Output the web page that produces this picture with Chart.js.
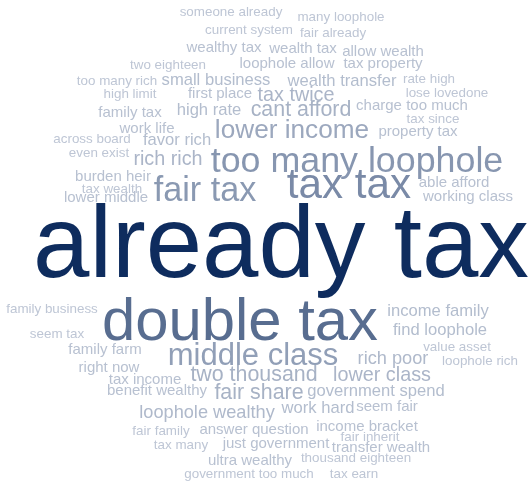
<!DOCTYPE html>
<html>
<head>
<meta charset="utf-8">
<script src="https://cdn.jsdelivr.net/npm/chart.js@4"></script>
<style>
  html, body { margin: 0; padding: 0; background: #fff; }
  #cloud { display: block; }
</style>
</head>
<body>
<canvas id="cloud" width="530" height="481"></canvas>
<script>
// word frequencies
const words = [
  'already tax', 'double tax', 'tax tax', 'too many loophole', 'fair tax', 'middle class',
  'lower income', 'two thousand', 'fair share', 'cant afford', 'tax twice', 'rich rich',
  'lower class', 'rich poor', 'loophole wealthy', 'work hard', 'wealth transfer', 'small business',
  'high rate', 'government spend', 'favor rich', 'income family', 'find loophole',
  'allow wealth', 'tax property', 'wealth tax', 'wealthy tax', 'loophole allow', 'answer question',
  'just government', 'income bracket', 'transfer wealth', 'first place', 'charge', 'too much',
  'seem fair', 'ultra wealthy', 'benefit wealthy', 'tax income', 'family farm', 'right now',
  'burden heir', 'family tax', 'work life', 'lower middle', 'able afford', 'working class',
  'property tax',
  'two eighteen', 'too many rich', 'high limit', 'across board', 'even exist', 'tax wealth',
  'tax since', 'lose lovedone', 'rate high', 'someone already', 'many loophole', 'current system',
  'fair already', 'family business', 'seem tax', 'value asset', 'loophole rich', 'fair family',
  'tax many', 'fair inherit', 'thousand eighteen', 'government too much', 'tax earn'
];
const counts = [
  57, 31, 20, 16, 15, 13,
  10, 7, 7, 7, 6, 6,
  6, 5, 5, 4, 4, 4,
  4, 4, 4, 4, 4,
  3, 3, 3, 3, 3, 3,
  3, 3, 3, 3, 3, 3,
  3, 3, 3, 3, 3, 3,
  3, 3, 3, 3, 3, 3,
  3,
  2, 2, 2, 2, 2, 2,
  2, 2, 2, 2, 2, 2,
  2, 2, 2, 2, 2, 2,
  2, 2, 2, 2, 2
];
// cloud layout: where each word landed (word centre, in cloud units)
const xs = [
  281, 240, 349, 357, 205, 253,
  292, 254, 259, 301, 296, 168,
  382, 393, 207, 318, 342, 216,
  209, 376, 177, 438, 440,
  383, 383, 303, 224, 287, 254,
  276, 367, 381, 220, 379, 437,
  387, 250, 157, 145, 105, 109,
  113, 130, 147, 106, 454, 468,
  418,
  168, 117, 130, 92, 99, 112,
  433, 447, 429, 231, 341, 249,
  333, 52, 57, 457, 480, 161,
  181, 370, 356, 249, 354
];
const ys = [
  242, 319, 183, 159, 189, 354,
  129, 374, 392, 109, 94, 158,
  374, 358, 412, 407, 80, 79,
  109, 390, 139, 310, 329,
  51, 63, 48, 47, 63, 429,
  443, 426, 447, 93, 105, 105,
  406, 460, 390, 379, 349, 367,
  176, 112, 128, 197, 182, 196,
  131,
  64, 80, 93, 138, 152, 188,
  118, 92, 78, 11, 16, 29,
  32, 308, 333, 346, 360, 430,
  444, 436, 457, 473, 473
];

const minCount = Math.min(...counts);
const maxCount = Math.max(...counts);
const light = [190, 198, 213];
const dark = [14, 44, 94];

function fontSize(c) {
  return 10.2 + 1.6 * c;
}

function wordColor(c) {
  const t = Math.pow((c - minCount) / (maxCount - minCount), 0.85);
  const rgb = light.map((v, i) => Math.round(v + (dark[i] - v) * t));
  return `rgb(${rgb[0]}, ${rgb[1]}, ${rgb[2]})`;
}

const wordLabels = {
  id: 'wordLabels',
  afterDatasetsDraw(chart) {
    const ctx = chart.ctx;
    const meta = chart.getDatasetMeta(0);
    ctx.save();
    ctx.textAlign = 'center';
    ctx.textBaseline = 'alphabetic';
    meta.data.forEach((pt, i) => {
      const size = fontSize(counts[i]);
      ctx.font = `${size}px "Liberation Sans", Arial, sans-serif`;
      ctx.fillStyle = wordColor(counts[i]);
      // centre of the word sits about a third of an em above its baseline
      ctx.fillText(words[i], pt.x, pt.y + size * 0.35);
    });
    ctx.restore();
  },
};

new Chart(document.getElementById('cloud'), {
  type: 'scatter',
  data: {
    datasets: [{
      label: 'words',
      data: words.map((w, i) => ({ x: xs[i], y: ys[i] })),
      pointRadius: 0,
      pointHoverRadius: 0,
    }],
  },
  options: {
    responsive: false,
    animation: false,
    layout: { padding: 0 },
    plugins: {
      legend: { display: false },
      tooltip: { enabled: false },
    },
    scales: {
      x: { type: 'linear', min: 0, max: 530, display: false },
      y: { type: 'linear', min: 0, max: 481, reverse: true, display: false },
    },
  },
  plugins: [wordLabels],
});
</script>
</body>
</html>
